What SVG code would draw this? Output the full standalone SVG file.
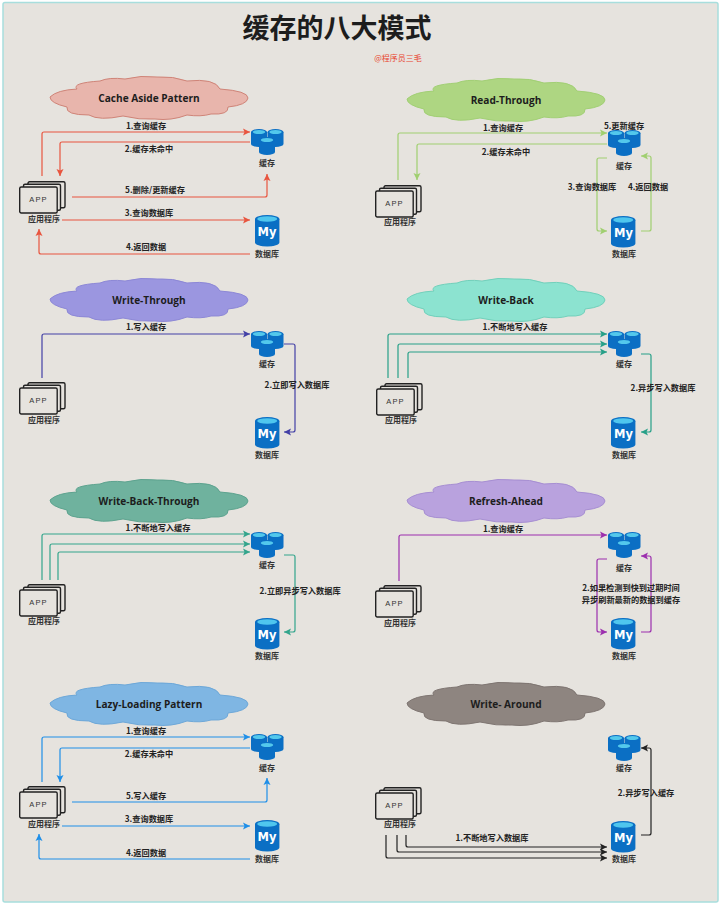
<svg xmlns="http://www.w3.org/2000/svg" xmlns:xlink="http://www.w3.org/1999/xlink" width="720" height="904" viewBox="0 0 720 904">
<style>
text{font-family:"Noto Sans CJK SC","Noto Sans",sans-serif;font-weight:700;fill:#222;text-anchor:middle}
.t{font-size:8.2px}
.n{font-size:8px;fill:#333}
.c{font-family:"Open Sans","Noto Sans CJK SC",sans-serif;font-size:10.1px;fill:#1d1d1d}
.a{font-family:"Liberation Sans",sans-serif;font-size:7.5px;font-weight:400;letter-spacing:1.2px;fill:#333}
.m{font-family:"DejaVu Sans",sans-serif;font-size:11.5px;fill:#fff}
path.l{fill:none;stroke-width:1.2}
.r{stroke:#e8553f}.g{stroke:#a0cf70}.i{stroke:#4340a6}.e{stroke:#27a088}.f{stroke:#33a58c}.p{stroke:#9c2fae}.b{stroke:#1f8fe8}.k{stroke:#222}
.cr{fill:#e8b5ac;stroke:#cf8478}.cg{fill:#aed682;stroke:#a2cf75}.ci{fill:#9b96e0;stroke:#8d88d6}.ce{fill:#8ce3d0;stroke:#72d0bb}.cf{fill:#6fb29e;stroke:#5ea38f}.cp{fill:#b9a2de;stroke:#a78fd2}.cb{fill:#7fb6e3;stroke:#6ea8d8}.ck{fill:#8e8580;stroke:#7f7672}
</style>
<defs>
<marker id="mr" markerUnits="userSpaceOnUse" markerWidth="8" markerHeight="8" refX="7" refY="4" orient="auto"><path d="M0,.5 7,4 0,7.500 1.500,4Z" fill="#e8553f"/></marker>
<marker id="mg" markerUnits="userSpaceOnUse" markerWidth="8" markerHeight="8" refX="7" refY="4" orient="auto"><path d="M0,.5 7,4 0,7.500 1.500,4Z" fill="#a0cf70"/></marker>
<marker id="mi" markerUnits="userSpaceOnUse" markerWidth="8" markerHeight="8" refX="7" refY="4" orient="auto"><path d="M0,.5 7,4 0,7.500 1.500,4Z" fill="#4340a6"/></marker>
<marker id="me" markerUnits="userSpaceOnUse" markerWidth="8" markerHeight="8" refX="7" refY="4" orient="auto"><path d="M0,.5 7,4 0,7.500 1.500,4Z" fill="#27a088"/></marker>
<marker id="mf" markerUnits="userSpaceOnUse" markerWidth="8" markerHeight="8" refX="7" refY="4" orient="auto"><path d="M0,.5 7,4 0,7.500 1.500,4Z" fill="#33a58c"/></marker>
<marker id="mp" markerUnits="userSpaceOnUse" markerWidth="8" markerHeight="8" refX="7" refY="4" orient="auto"><path d="M0,.5 7,4 0,7.500 1.500,4Z" fill="#9c2fae"/></marker>
<marker id="mb" markerUnits="userSpaceOnUse" markerWidth="8" markerHeight="8" refX="7" refY="4" orient="auto"><path d="M0,.5 7,4 0,7.500 1.500,4Z" fill="#1f8fe8"/></marker>
<marker id="mk" markerUnits="userSpaceOnUse" markerWidth="8" markerHeight="8" refX="7" refY="4" orient="auto"><path d="M0,.5 7,4 0,7.500 1.500,4Z" fill="#222"/></marker>
<path id="cloud" d="M-99,-1Q-92,-8 -72,-9Q-78,-15 -49,-17Q-40,-21 -24,-19Q-8,-23 8,-21Q24,-22 38,-17Q66,-20 71,-9Q99,-7 99,0Q98,7 79,9Q80,17 62,16Q52,19 38,17Q22,23 6,21Q-10,22 -26,18Q-50,23 -60,17Q-84,17 -82,9Q-99,5 -99,-1Z" stroke-width="1"/>
<g id="app" fill="#e6e3de" stroke="#222" stroke-width="1.400">
<rect x="9" y=".7" width="37" height="26" rx="1.500"/>
<rect x="4.500" y="3.200" width="37" height="26" rx="1.500"/>
<rect x=".7" y="6" width="37.500" height="26" rx="1.500"/>
</g>
<g id="cyl"><path d="M0,3V15A8,3 0 0 0 16,15V3Z" fill="#0b6fc4"/><ellipse cx="8" cy="3" rx="8" ry="3" fill="#0b6fc4"/><ellipse cx="8" cy="3" rx="6.200" ry="2" fill="#53c8ec"/></g>
<g id="cache"><use href="#cyl" x="1"/><use href="#cyl" x="17.500"/><use href="#cyl" x="9" y="8"/></g>
<g id="dbi"><path d="M0,4V27.500A12.200,4 0 0 0 24.400,27.500V4Z" fill="#0b6fc4"/><ellipse cx="12.200" cy="4" rx="12.200" ry="4" fill="#0b6fc4"/><ellipse cx="12.200" cy="4" rx="10" ry="2.700" fill="#4fc6ee"/></g>
</defs>
<rect width="720" height="904" fill="#fff"/>
<rect x="3" y="2.500" width="715" height="899.500" rx="2" fill="#e6e3de" stroke="#a8dedd" stroke-width="1.500"/>
<g id="title">
<text x="337" y="37.500" style="font-size:27px;fill:#1d1d1d">缓存的八大模式</text>
<text x="398" y="61" style="font-size:8px;font-weight:400;fill:#e8452f">@程序员三毛</text>
</g>
<g id="connectors">
<g id="c-cache-aside">
<path class="l r" marker-end="url(#mr)" d="M42,176V134Q42,132 44,132H250"/>
<path class="l r" marker-end="url(#mr)" d="M250,142H62Q60,142 60,144V176"/>
<path class="l r" marker-end="url(#mr)" d="M72,197H265Q267,197 267,195V174"/>
<path class="l r" marker-end="url(#mr)" d="M62,220H250"/>
<path class="l r" marker-end="url(#mr)" d="M250,254H41Q39,254 39,252V229"/>
</g>
<g id="c-read-through">
<path class="l g" marker-end="url(#mg)" d="M398,180V135Q398,133 400,133H607"/>
<path class="l g" marker-end="url(#mg)" d="M607,144H419Q417,144 417,146V180"/>
<path class="l g" marker-end="url(#mg)" d="M607,158H599Q597,158 597,160V229Q597,231 599,231H607"/>
<path class="l g" marker-end="url(#mg)" d="M641,231H649Q651,231 651,229V158Q651,156 649,156H641"/>
</g>
<g id="c-write-through">
<path class="l i" marker-end="url(#mi)" d="M42,378V336Q42,334 44,334H250"/>
<path class="l i" marker-end="url(#mi)" d="M284,344H293Q295,344 295,346V430Q295,432 293,432H284"/>
</g>
<g id="c-write-back">
<path class="l e" marker-end="url(#me)" d="M388,378V336Q388,334 390,334H607"/>
<path class="l e" marker-end="url(#me)" d="M398,378V346Q398,344 400,344H607"/>
<path class="l e" marker-end="url(#me)" d="M408,378V354Q408,352 410,352H607"/>
<path class="l e" marker-end="url(#me)" d="M641,354H649Q651,354 651,356V430Q651,432 649,432H641"/>
</g>
<g id="c-write-back-through">
<path class="l f" marker-end="url(#mf)" d="M42,580V536Q42,534 44,534H250"/>
<path class="l f" marker-end="url(#mf)" d="M50,580V546Q50,544 52,544H250"/>
<path class="l f" marker-end="url(#mf)" d="M58,580V554Q58,552 60,552H250"/>
<path class="l f" marker-end="url(#mf)" d="M284,555H293Q295,555 295,557V630Q295,632 293,632H284"/>
</g>
<g id="c-refresh-ahead">
<path class="l p" marker-end="url(#mp)" d="M399,581V537Q399,535 401,535H607"/>
<path class="l p" marker-end="url(#mp)" d="M607,559H599Q597,559 597,561V630Q597,632 599,632H607"/>
<path class="l p" marker-end="url(#mp)" d="M641,632H649Q651,632 651,630V558Q651,556 649,556H641"/>
</g>
<g id="c-lazy-loading">
<path class="l b" marker-end="url(#mb)" d="M42,782V739Q42,737 44,737H250"/>
<path class="l b" marker-end="url(#mb)" d="M250,748H62Q60,748 60,750V782"/>
<path class="l b" marker-end="url(#mb)" d="M72,802H265Q267,802 267,800V778"/>
<path class="l b" marker-end="url(#mb)" d="M62,826H250"/>
<path class="l b" marker-end="url(#mb)" d="M250,859H41Q39,859 39,857V834"/>
</g>
<g id="c-write-around">
<path class="l k" marker-end="url(#mk)" d="M386,835V856Q386,858 388,858H607"/>
<path class="l k" marker-end="url(#mk)" d="M397,835V850Q397,852 399,852H607"/>
<path class="l k" marker-end="url(#mk)" d="M406,835V845Q406,847 408,847H607"/>
<path class="l k" marker-end="url(#mk)" d="M641,835H649Q651,835 651,833V750Q651,748 649,748H641"/>
</g>
<g id="connector-labels">
<text class="t" x="146" y="129">1.查询缓存</text><text class="t" x="149" y="152">2.缓存未命中</text><text class="t" x="155" y="193">5.删除/更新缓存</text><text class="t" x="149" y="216">3.查询数据库</text><text class="t" x="146" y="250">4.返回数据</text>
<text class="t" x="503" y="131">1.查询缓存</text><text class="t" x="506" y="155">2.缓存未命中</text><text class="t" x="624" y="129">5.更新缓存</text><text class="t" x="592" y="190">3.查询数据库</text><text class="t" x="648" y="190">4.返回数据</text>
<text class="t" x="146" y="330">1.写入缓存</text><text class="t" x="297" y="388">2.立即写入数据库</text>
<text class="t" x="515" y="330">1.不断地写入缓存</text><text class="t" x="663" y="391">2.异步写入数据库</text>
<text class="t" x="158" y="531">1.不断地写入缓存</text><text class="t" x="300" y="594">2.立即异步写入数据库</text>
<text class="t" x="503" y="532">1.查询缓存</text><text class="t" x="631" y="591">2.如果检测到快到过期时间</text><text class="t" x="631" y="603">异步刷新最新的数据到缓存</text>
<text class="t" x="146" y="734">1.查询缓存</text><text class="t" x="149" y="757">2.缓存未命中</text><text class="t" x="146" y="799">5.写入缓存</text><text class="t" x="149" y="822">3.查询数据库</text><text class="t" x="146" y="856">4.返回数据</text>
<text class="t" x="492" y="841">1.不断地写入数据库</text><text class="t" x="646" y="796">2.异步写入缓存</text>
</g>
</g>
<g id="cloud-1"><use href="#cloud" x="149" y="98" class="cr"/><text class="c" x="149" y="102">Cache Aside Pattern</text></g>
<g id="app-1"><use href="#app" x="19" y="181"/><text class="a" x="38.500" y="201.500">APP</text><text class="n" x="44" y="222">应用程序</text></g>
<g id="cache-1"><use href="#cache" x="250" y="129"/><text class="n" x="267" y="166">缓存</text></g>
<g id="db-1"><use href="#dbi" x="255" y="215"/><text class="m" x="267" y="236">My</text><text class="n" x="267" y="257">数据库</text></g>
<g id="cloud-2"><use href="#cloud" x="506" y="100" class="cg"/><text class="c" x="506" y="104">Read-Through</text></g>
<g id="app-2"><use href="#app" x="375" y="185"/><text class="a" x="394.500" y="205.500">APP</text><text class="n" x="400" y="225">应用程序</text></g>
<g id="cache-2"><use href="#cache" x="607" y="130"/><text class="n" x="624" y="169">缓存</text></g>
<g id="db-2"><use href="#dbi" x="611" y="216"/><text class="m" x="623.500" y="237">My</text><text class="n" x="624" y="257">数据库</text></g>
<g id="cloud-3"><use href="#cloud" x="149" y="300" class="ci"/><text class="c" x="149" y="304">Write-Through</text></g>
<g id="app-3"><use href="#app" x="19" y="382"/><text class="a" x="38.500" y="402.500">APP</text><text class="n" x="44" y="423">应用程序</text></g>
<g id="cache-3"><use href="#cache" x="250" y="331"/><text class="n" x="267" y="367">缓存</text></g>
<g id="db-3"><use href="#dbi" x="255" y="417"/><text class="m" x="267" y="438">My</text><text class="n" x="267" y="458">数据库</text></g>
<g id="cloud-4"><use href="#cloud" x="506" y="300" class="ce"/><text class="c" x="506" y="304">Write-Back</text></g>
<g id="app-4"><use href="#app" x="376" y="383"/><text class="a" x="395.500" y="403.500">APP</text><text class="n" x="401" y="423">应用程序</text></g>
<g id="cache-4"><use href="#cache" x="607" y="331"/><text class="n" x="624" y="367">缓存</text></g>
<g id="db-4"><use href="#dbi" x="611" y="417"/><text class="m" x="623.500" y="438">My</text><text class="n" x="624" y="458">数据库</text></g>
<g id="cloud-5"><use href="#cloud" x="149" y="501" class="cf"/><text class="c" x="149" y="505">Write-Back-Through</text></g>
<g id="app-5"><use href="#app" x="19" y="584"/><text class="a" x="38.500" y="604.500">APP</text><text class="n" x="44" y="624">应用程序</text></g>
<g id="cache-5"><use href="#cache" x="250" y="532"/><text class="n" x="267" y="568">缓存</text></g>
<g id="db-5"><use href="#dbi" x="255" y="618"/><text class="m" x="267" y="639">My</text><text class="n" x="267" y="659">数据库</text></g>
<g id="cloud-6"><use href="#cloud" x="506" y="501" class="cp"/><text class="c" x="506" y="505">Refresh-Ahead</text></g>
<g id="app-6"><use href="#app" x="375" y="585"/><text class="a" x="394.500" y="605.500">APP</text><text class="n" x="400" y="626">应用程序</text></g>
<g id="cache-6"><use href="#cache" x="607" y="532"/><text class="n" x="624" y="571">缓存</text></g>
<g id="db-6"><use href="#dbi" x="611" y="618"/><text class="m" x="623.500" y="639">My</text><text class="n" x="624" y="659">数据库</text></g>
<g id="cloud-7"><use href="#cloud" x="149" y="704" class="cb"/><text class="c" x="149" y="708">Lazy-Loading Pattern</text></g>
<g id="app-7"><use href="#app" x="19" y="786"/><text class="a" x="38.500" y="806.500">APP</text><text class="n" x="44" y="827">应用程序</text></g>
<g id="cache-7"><use href="#cache" x="250" y="734"/><text class="n" x="267" y="771">缓存</text></g>
<g id="db-7"><use href="#dbi" x="255" y="820"/><text class="m" x="267" y="841">My</text><text class="n" x="267" y="862">数据库</text></g>
<g id="cloud-8"><use href="#cloud" x="506" y="704" class="ck"/><text class="c" x="506" y="708">Write- Around</text></g>
<g id="app-8"><use href="#app" x="375" y="787"/><text class="a" x="394.500" y="807.500">APP</text><text class="n" x="400" y="827">应用程序</text></g>
<g id="cache-8"><use href="#cache" x="607" y="735"/><text class="n" x="624" y="771">缓存</text></g>
<g id="db-8"><use href="#dbi" x="611" y="821"/><text class="m" x="623.500" y="842">My</text><text class="n" x="624" y="862">数据库</text></g>
</svg>
